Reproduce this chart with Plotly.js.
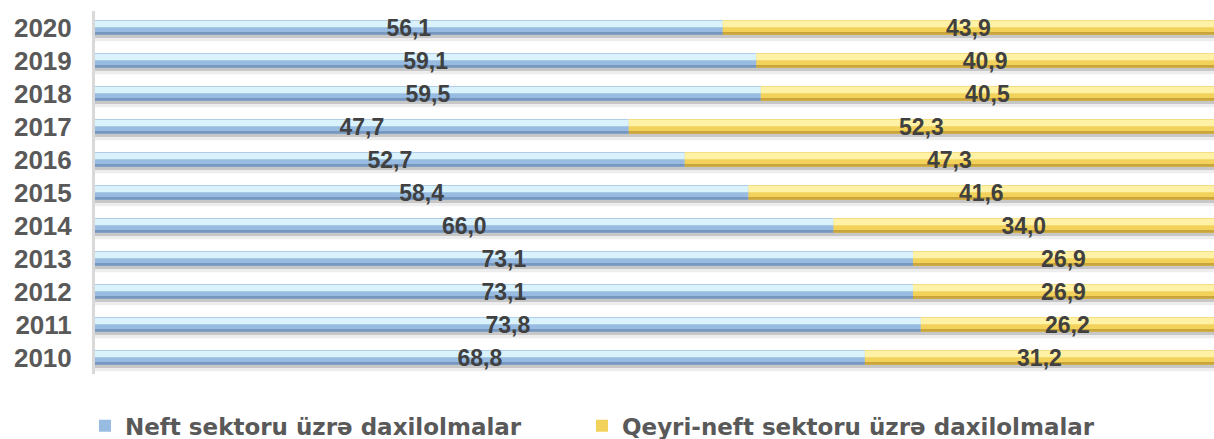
<!DOCTYPE html>
<html>
<head>
<meta charset="utf-8">
<script src="https://cdn.plot.ly/plotly-3.0.1.min.js"></script>
<style>
  html, body { margin: 0; padding: 0; overflow: hidden; background: #ffffff; }
  #chart { width: 1214px; height: 439px; }
</style>
</head>
<body>
<div id="chart"></div>
<script>
// ---- data ----
const years = ['2010', '2011', '2012', '2013', '2014', '2015', '2016', '2017', '2018', '2019', '2020'];
const neft = [68.8, 73.8, 73.1, 73.1, 66.0, 58.4, 52.7, 47.7, 59.5, 59.1, 56.1];
const qeyriNeft = [31.2, 26.2, 26.9, 26.9, 34.0, 41.6, 47.3, 52.3, 40.5, 40.9, 43.9];
const seriesNames = ['Neft sektoru üzrə daxilolmalar', 'Qeyri-neft sektoru üzrə daxilolmalar'];

// ---- derived ----
const totals = neft.map((v, i) => v + qeyriNeft[i]);
const fmt = v => v.toFixed(1).replace('.', ',');
const W = 0.44;
const zeros = neft.map(() => 0);

function bar(x, base, width, offset, color, extra) {
  return Object.assign({
    type: 'bar', orientation: 'h', y: years, x: x, base: base,
    width: width, offset: offset,
    marker: { color: color, line: { width: 0 } },
    hoverinfo: 'skip', showlegend: false
  }, extra || {});
}

const labelFont = { family: 'Liberation Sans, Arial, sans-serif', size: 23, color: '#404040', weight: 'bold' };

const traces = [
  // soft shadow under bars
  bar(totals, zeros, W, -W / 2 - 0.20, 'rgba(0,0,0,0.07)'),
  bar(totals, zeros, W, -W / 2 - 0.10, 'rgba(0,0,0,0.16)'),
  // main bars (legend)
  bar(neft, zeros, W, -W / 2, '#98bce1', { name: seriesNames[0], showlegend: true, legendrank: 1, legendwidth: 452 }),
  bar(qeyriNeft, neft, W, -W / 2, '#f2d25a', { name: seriesNames[1], showlegend: true, legendrank: 2 }),
  // bottom darker edges
  bar(neft, zeros, 0.08, -W / 2, '#7797bf'),
  bar(qeyriNeft, neft, 0.08, -W / 2, '#c9a53c'),
  // top highlights
  bar(neft, zeros, 0.19, 0.01, '#d9f2fc'),
  bar(qeyriNeft, neft, 0.19, 0.01, '#fff2a6'),
  // value labels
  bar(neft, zeros, W, -W / 2, 'rgba(0,0,0,0)', {
    text: neft.map(fmt), textposition: 'inside', insidetextanchor: 'middle',
    constraintext: 'none', textangle: 0, textfont: labelFont
  }),
  bar(qeyriNeft, neft, W, -W / 2, 'rgba(0,0,0,0)', {
    text: qeyriNeft.map(fmt), textposition: 'inside', insidetextanchor: 'middle',
    constraintext: 'none', textangle: 0, textfont: labelFont
  })
];

const layout = {
  width: 1214, height: 439,
  margin: { l: 95, r: 0, t: 10.5, b: 64.5 },
  paper_bgcolor: '#ffffff', plot_bgcolor: '#ffffff',
  barmode: 'overlay',
  xaxis: {
    range: [0, 100], showgrid: false, zeroline: false, showticklabels: false,
    showline: false, ticks: '', fixedrange: true
  },
  yaxis: {
    type: 'category', categoryorder: 'array', categoryarray: years,
    showgrid: false, zeroline: false, ticks: '',
    showline: true, linecolor: '#d9d9d9', linewidth: 3,
    ticklabelstandoff: 15,
    tickfont: { family: 'Liberation Sans, Arial, sans-serif', size: 26, color: '#595959', weight: 'bold' },
    fixedrange: true
  },
  showlegend: true,
  legend: {
    orientation: 'h', xref: 'container', yref: 'container',
    x: 0.07, xanchor: 'left', y: 0.03, yanchor: 'middle',
    font: { family: 'DejaVu Sans, Verdana, sans-serif', size: 23, color: '#595959', weight: 'bold' },
    traceorder: 'normal',
    bgcolor: 'rgba(0,0,0,0)'
  }
};

Plotly.newPlot('chart', traces, layout, { displayModeBar: false, staticPlot: true });
</script>
</body>
</html>
